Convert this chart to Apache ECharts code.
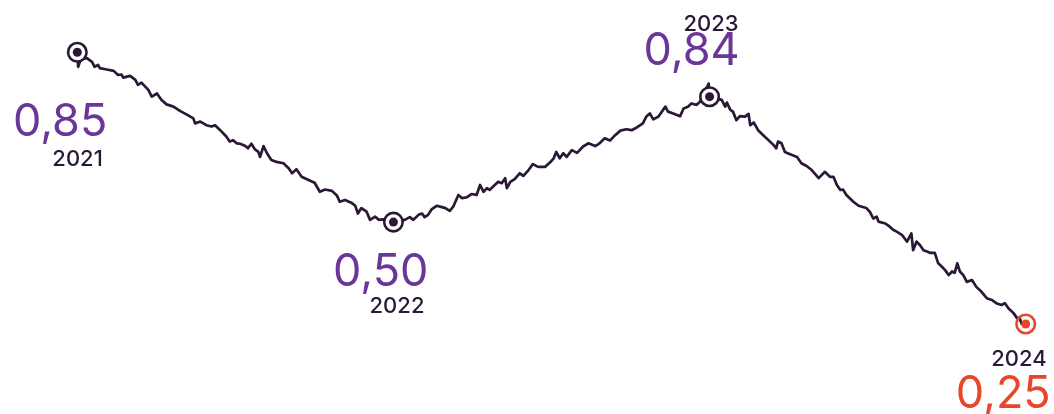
<!DOCTYPE html>
<html><head><meta charset="utf-8">
<script src="https://cdn.jsdelivr.net/npm/echarts@6/dist/echarts.min.js"></script>
<style>html,body{margin:0;padding:0;background:#fff}#c{width:1054px;height:414px}</style>
</head><body><div id="c"></div>
<script>
// Trace: day since start of 2021, index level
const days = [0,1,4,11,17,20,24,26,34,42,47,51,53,61,67,70,74,82,86,92,97,103,111,119,126,134,136,142,149,155,159,165,172,176,180,184,188,194,197,201,205,209,211,215,219,224,230,238,244,248,253,259,267,274,280,286,294,300,303,309,317,321,324,328,334,338,344,348,353,357,365,378,384,388,394,398,401,405,409,415,421,425,430,434,440,444,450,455,461,465,469,473,476,482,486,490,494,496,500,505,511,515,521,526,532,540,546,550,553,557,561,565,571,577,584,590,598,603,609,615,621,627,634,640,646,653,657,661,665,671,679,682,688,696,700,705,709,715,719,729,730,744,748,750,754,757,761,765,771,775,777,781,786,792,798,804,807,809,813,817,823,831,836,842,848,856,863,869,873,877,881,884,888,896,902,911,915,919,923,925,933,938,942,946,952,958,963,965,969,973,977,981,985,990,994,998,1002,1006,1010,1013,1016,1019,1023,1027,1033,1038,1044,1050,1056,1061,1067,1071,1075,1081,1085,1088,1090,1094,1095];
const level = [0.850,0.818,0.835,0.837,0.829,0.818,0.822,0.815,0.812,0.809,0.800,0.801,0.794,0.798,0.789,0.778,0.783,0.767,0.752,0.759,0.745,0.735,0.730,0.720,0.713,0.704,0.693,0.697,0.689,0.686,0.689,0.678,0.664,0.653,0.656,0.649,0.648,0.643,0.638,0.648,0.636,0.630,0.619,0.643,0.627,0.612,0.608,0.605,0.594,0.583,0.592,0.575,0.568,0.562,0.542,0.547,0.544,0.533,0.520,0.524,0.517,0.511,0.494,0.506,0.498,0.480,0.487,0.480,0.481,0.480,0.475,0.480,0.486,0.480,0.491,0.494,0.486,0.491,0.503,0.511,0.508,0.506,0.500,0.509,0.535,0.528,0.530,0.537,0.535,0.557,0.542,0.550,0.546,0.557,0.564,0.561,0.572,0.550,0.564,0.570,0.583,0.577,0.590,0.603,0.597,0.597,0.607,0.616,0.630,0.616,0.627,0.619,0.634,0.628,0.642,0.649,0.643,0.649,0.660,0.655,0.667,0.677,0.680,0.678,0.684,0.693,0.708,0.715,0.702,0.708,0.730,0.719,0.715,0.709,0.726,0.730,0.737,0.734,0.741,0.781,0.752,0.745,0.730,0.739,0.723,0.719,0.700,0.709,0.708,0.714,0.689,0.695,0.678,0.667,0.656,0.645,0.638,0.653,0.649,0.630,0.625,0.619,0.605,0.599,0.590,0.572,0.586,0.575,0.575,0.557,0.546,0.547,0.535,0.520,0.511,0.506,0.498,0.483,0.487,0.476,0.472,0.465,0.458,0.454,0.447,0.432,0.450,0.413,0.432,0.424,0.413,0.410,0.407,0.407,0.384,0.377,0.369,0.358,0.366,0.363,0.384,0.366,0.358,0.343,0.347,0.332,0.321,0.307,0.303,0.296,0.292,0.296,0.285,0.274,0.263,0.263,0.252,0.232,0.250];
const years = ['2021','2022','2023','2024'];
const yearDays = [0,365,730,1095];
const yearValues = [0.85,0.50,0.84,0.25];

const DARK = '#2b1736', PURPLE = '#6a3697', ORANGE = '#e8462a';
const FONT = 'Inter';
// label placement (offsets relative to each marker)
const valueOffsets = [[30,70],[35,50],[30,-45],[25,70]];
const yearOffsets  = [[25.5,107],[31,84],[29,-72],[21,35.5]];

const pts = yearDays.map(d => [d, level[days.indexOf(d)]]);
const isLast = i => i === years.length - 1;
const fmt = v => v.toFixed(2).replace('.', ',');

const chart = echarts.init(document.getElementById('c'), null, {renderer:'canvas'});
chart.setOption({
  animation:false,
  grid:{left:77.3, right:28.3, top:52.3, bottom:90},
  xAxis:{type:'value', min:0, max:1095, show:false},
  yAxis:{type:'value', min:0.25, max:0.85, show:false},
  series:[
    {type:'line', data:days.map((d,i)=>[d,level[i]]), showSymbol:false, silent:true,
     lineStyle:{color:DARK, width:2.7, join:'round'}, z:2},
    {type:'scatter', silent:true, z:3, symbolSize:18.5,
     data:pts.map((p,i)=>({value:p, itemStyle:{opacity:1,
        color:isLast(i)?'rgba(0,0,0,0)':'#fff',
        borderColor:isLast(i)?ORANGE:DARK, borderWidth:2.6}}))},
    {type:'scatter', silent:true, z:4, symbolSize:9,
     data:pts.map((p,i)=>({value:p, itemStyle:{opacity:1, color:isLast(i)?ORANGE:DARK}}))},
    {type:'scatter', silent:true, z:5, symbolSize:1, itemStyle:{color:'rgba(0,0,0,0)', opacity:1},
     data:pts.map((p,i)=>({value:p, label:{show:true, position:'inside', align:'right', verticalAlign:'middle',
        offset:valueOffsets[i], formatter:fmt(yearValues[i]), fontFamily:FONT, fontSize:45, fontWeight:400,
        opacity:1, color:isLast(i)?ORANGE:PURPLE}}))},
    {type:'scatter', silent:true, z:5, symbolSize:1, itemStyle:{color:'rgba(0,0,0,0)', opacity:1},
     data:pts.map((p,i)=>({value:p, label:{show:true, position:'inside', align:'right', verticalAlign:'middle',
        offset:yearOffsets[i], formatter:years[i], fontFamily:FONT, fontSize:22, fontWeight:500,
        opacity:1, color:DARK}}))}
  ]
});
</script>
</body></html>
